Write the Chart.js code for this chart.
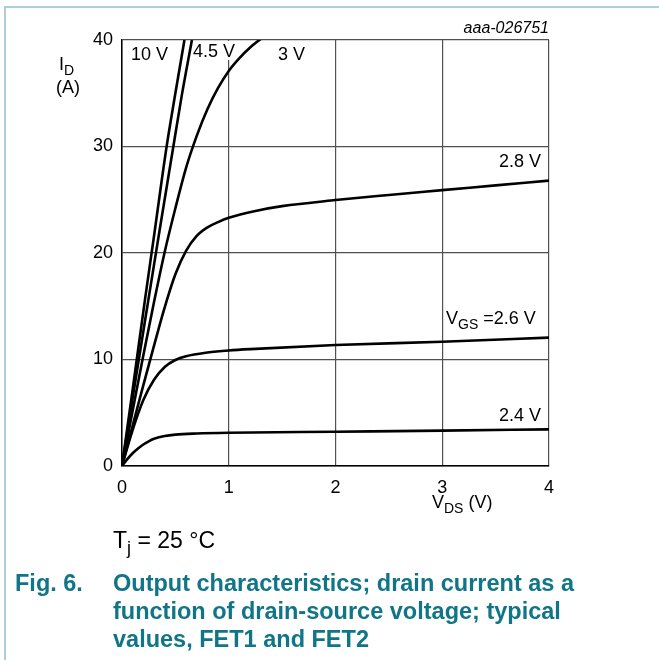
<!DOCTYPE html>
<html>
<head>
<meta charset="utf-8">
<script src="https://cdn.jsdelivr.net/npm/chart.js@4.4.1/dist/chart.umd.min.js"></script>
<style>
  body { margin: 0; background: #fff; }
  canvas { display: block; }
</style>
</head>
<body>
<canvas id="chart" width="659" height="660"></canvas>
<script>
// V_GS curves, I_D (A) against V_DS (V)
var curveLabels = ['10 V', '4.5 V', '3 V', '2.8 V', '2.6 V', '2.4 V'];

var vds10 = [0, 0.1, 0.215, 0.3, 0.418, 0.5, 0.585];
var id10  = [0, 7.2, 15.6, 21.6, 30, 35.0, 40];

var vds45 = [0, 0.1, 0.247, 0.35, 0.481, 0.56, 0.655];
var id45  = [0, 6.4, 15.6, 22.0, 30, 34.8, 40];

var vds3 = [0, 0.1, 0.2, 0.3, 0.4, 0.5, 0.6, 0.7, 0.8, 0.9, 1.0, 1.1, 1.2, 1.3, 1.4];
var id3  = [0, 5.2, 10.4, 15.4, 20.1, 24.2, 28.0, 31.0, 33.5, 35.5, 37.1, 38.3, 39.3, 40.1, 40.8];

var vds28 = [0, 0.1, 0.2, 0.3, 0.4, 0.5, 0.6, 0.7, 0.8, 0.9, 1.0, 1.25, 1.5, 2, 2.5, 3, 3.5, 4];
var id28  = [0, 3.8, 7.6, 11.3, 14.9, 18.0, 20.2, 21.6, 22.4, 22.9, 23.3, 23.95, 24.4, 24.97, 25.45, 25.9, 26.35, 26.8];

var vds26 = [0, 0.1, 0.2, 0.3, 0.4, 0.5, 0.6, 0.8, 1.0, 1.25, 2, 3, 4];
var id26  = [0, 3.4, 6.2, 8.1, 9.3, 9.95, 10.3, 10.65, 10.85, 11.0, 11.36, 11.67, 12.05];

var vds24 = [0, 0.05, 0.1, 0.15, 0.2, 0.25, 0.3, 0.4, 0.5, 0.7, 1.0, 2, 3, 4];
var id24  = [0, 0.65, 1.2, 1.65, 2.02, 2.32, 2.55, 2.82, 2.95, 3.05, 3.12, 3.22, 3.32, 3.44];

var xTicks = [0, 1, 2, 3, 4];
var yTicks = [0, 10, 20, 30, 40];

function pts(xs, ys) {
    return xs.map(function (x, i) { return { x: x, y: ys[i] }; });
}

var curves = [
    pts(vds10, id10), pts(vds45, id45), pts(vds3, id3),
    pts(vds28, id28), pts(vds26, id26), pts(vds24, id24)
];

var FONT = '"Liberation Sans", Arial, sans-serif';

function subText(c, main, sub, rest, x, y, size) {
    c.font = size + 'px ' + FONT;
    c.fillText(main, x, y);
    var w = c.measureText(main).width;
    c.font = Math.round(size * 0.8) + 'px ' + FONT;
    c.fillText(sub, x + w, y + size * 0.28);
    var w2 = c.measureText(sub).width;
    if (rest) {
        c.font = size + 'px ' + FONT;
        c.fillText(rest, x + w + w2, y);
    }
}

var textPlugin = {
    id: 'texts',
    beforeDatasetsDraw: function (chart) {
        var c = chart.ctx;
        c.save();
        c.fillStyle = '#000';
        c.textBaseline = 'alphabetic';
        c.textAlign = 'left';
        c.font = '18px ' + FONT;
        c.fillText(curveLabels[0], 131, 60);
        // label on white ground that breaks the grid line
        c.fillStyle = '#fff';
        c.fillRect(192, 41, 46, 19);
        c.fillStyle = '#000';
        c.fillText(curveLabels[1], 193, 57);
        c.fillText(curveLabels[2], 278, 60);
        c.textAlign = 'right';
        c.fillText(curveLabels[3], 541, 167);
        c.fillText(curveLabels[5], 541, 421);
        c.textAlign = 'left';
        c.fillStyle = '#fff';
        c.fillRect(444, 306, 100, 25);
        c.fillStyle = '#000';
        subText(c, 'V', 'GS', ' =2.6 V', 446, 324, 18);
        c.restore();
    },
    afterDraw: function (chart) {
        var c = chart.ctx;
        c.save();
        // page frame
        c.strokeStyle = '#a9d0dc';
        c.lineWidth = 2;
        c.beginPath();
        c.moveTo(5, 660);
        c.lineTo(5, 7);
        c.lineTo(659, 7);
        c.stroke();

        c.fillStyle = '#000';
        c.textAlign = 'right';
        c.font = 'italic 16px ' + FONT;
        c.fillText('aaa-026751', 549, 33);

        c.textAlign = 'left';
        subText(c, 'I', 'D', '', 59, 70, 18);
        c.font = '18px ' + FONT;
        c.fillText('(A)', 56, 93);

        subText(c, 'V', 'DS', ' (V)', 432, 508, 18);

        subText(c, 'T', 'j', ' = 25 °C', 113, 548, 23);

        c.fillStyle = '#0f7587';
        c.font = 'bold 23.5px ' + FONT;
        c.fillText('Fig. 6.', 15, 591);
        c.fillText('Output characteristics; drain current as a', 113, 591);
        c.fillText('function of drain-source voltage; typical', 113, 619);
        c.fillText('values, FET1 and FET2', 113, 647);
        c.restore();
    }
};

var ctx = document.getElementById('chart');
new Chart(ctx, {
    type: 'scatter',
    data: {
        datasets: curves.map(function (d, i) {
            return {
                label: curveLabels[i],
                data: d,
                showLine: true,
                borderColor: '#000',
                borderWidth: 2.6,
                pointRadius: 0,
                cubicInterpolationMode: 'monotone',
                fill: false
            };
        })
    },
    options: {
        responsive: false,
        animation: false,
        devicePixelRatio: 1,
        layout: {
            padding: { left: 0, top: 40, right: 110, bottom: 0 }
        },
        plugins: {
            legend: { display: false },
            tooltip: { enabled: false }
        },
        scales: {
            x: {
                type: 'linear',
                min: 0,
                max: 4,
                afterFit: function (s) { s.height = 194; },
                afterBuildTicks: function (s) { s.ticks = xTicks.map(function (v) { return { value: v }; }); },
                ticks: {
                    color: '#000',
                    padding: 11,
                    font: { family: FONT, size: 18 }
                },
                grid: { color: '#505050', lineWidth: 1.2, drawTicks: false },
                border: { color: '#000', width: 1.5 }
            },
            y: {
                type: 'linear',
                min: 0,
                max: 40,
                afterFit: function (s) { s.width = 122; },
                afterBuildTicks: function (s) { s.ticks = yTicks.map(function (v) { return { value: v }; }); },
                ticks: {
                    color: '#000',
                    padding: 9,
                    font: { family: FONT, size: 18 }
                },
                grid: { color: '#505050', lineWidth: 1.2, drawTicks: false },
                border: { color: '#000', width: 1.5 }
            }
        }
    },
    plugins: [textPlugin]
});
</script>
</body>
</html>
